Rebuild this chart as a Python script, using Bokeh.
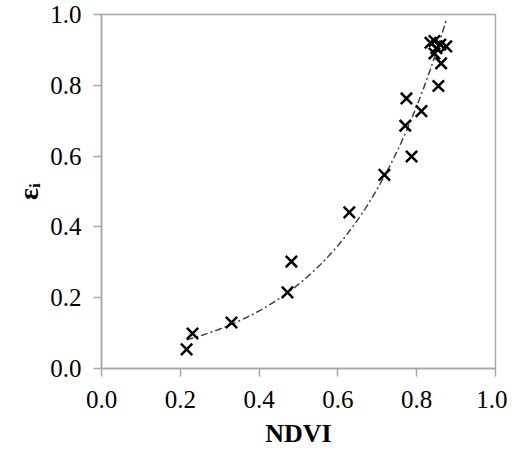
import numpy as np
from bokeh.plotting import figure
from bokeh.models import Range1d, FixedTicker, CustomJSTickFormatter, Title
from bokeh.embed import file_html
from bokeh.resources import INLINE

# data
ndvi = [0.216, 0.231, 0.330, 0.472, 0.482, 0.629, 0.718, 0.771, 0.774, 0.787,
        0.812, 0.855, 0.862, 0.835, 0.845, 0.850, 0.845, 0.860, 0.875]
eps_i = [0.054, 0.099, 0.130, 0.215, 0.302, 0.441, 0.547, 0.686, 0.763, 0.599,
         0.727, 0.798, 0.862, 0.920, 0.925, 0.905, 0.890, 0.915, 0.910]
x_ticks = [0.0, 0.2, 0.4, 0.6, 0.8, 1.0]
y_ticks = [0.0, 0.2, 0.4, 0.6, 0.8, 1.0]
x_title = "NDVI"
y_title = "εᵢ"

# exponential trendline fitted to the data (least squares on log y)
xa = np.array(ndvi)
ya = np.array(eps_i)
b, ln_a = np.polyfit(xa, np.log(ya), 1)
xf = np.linspace(xa.min(), xa.max(), 200)
yf = np.exp(ln_a) * np.exp(b * xf)

p = figure(output_backend="svg", toolbar_location=None,
           frame_width=394, frame_height=354,
           min_border_left=101, min_border_right=12,
           min_border_top=14, min_border_bottom=86,
           x_range=Range1d(0, 1), y_range=Range1d(0, 1))

p.line(xf, yf, line_color="#404040", line_width=1.5, line_dash="7 3 2 3")
p.scatter(ndvi, eps_i, marker="x", size=16, line_color="black", line_width=2.5)

grey = "#a6a6a6"
serif = "Liberation Serif"
p.grid.visible = False
p.outline_line_color = grey
p.outline_line_width = 1.5
p.background_fill_color = "white"
p.border_fill_color = "white"

p.xaxis.ticker = FixedTicker(ticks=x_ticks)
p.yaxis.ticker = FixedTicker(ticks=y_ticks)
for ax in (p.xaxis[0], p.yaxis[0]):
    ax.formatter = CustomJSTickFormatter(code="return tick.toFixed(1);")
    ax.axis_line_color = grey
    ax.axis_line_width = 1.5
    ax.major_tick_line_color = grey
    ax.major_tick_line_width = 1.5
    ax.major_tick_out = 8
    ax.major_tick_in = 0
    ax.minor_tick_line_color = None
    ax.major_label_text_font = serif
    ax.major_label_text_font_size = "25px"
    ax.major_label_text_font_style = "normal"
    ax.major_label_text_color = "black"
p.xaxis.major_label_standoff = 14
p.yaxis.major_label_standoff = 12

# axis titles as Title annotations (serif font honoured there)
p.add_layout(Title(text=x_title, align="center", text_font=serif,
                   text_font_size="26px", text_font_style="bold",
                   text_color="black", standoff=12), "below")
p.add_layout(Title(text=y_title, align="center", text_font=serif,
                   text_font_size="28px", text_font_style="bold",
                   text_color="black", standoff=8), "left")

open("out.html", "w").write(file_html(p, INLINE))
